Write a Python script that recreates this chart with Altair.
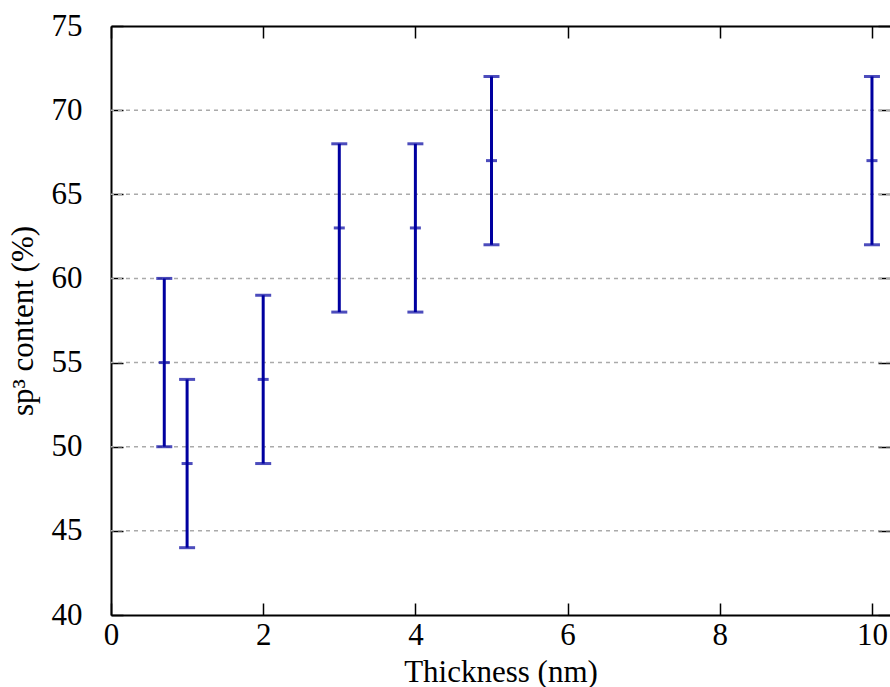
import altair as alt
import pandas as pd

thickness = [0.7, 1, 2, 3, 4, 5, 10]
sp3_mean = [55, 49, 54, 63, 63, 67, 67]
sp3_low = [50, 44, 49, 58, 58, 62, 62]
sp3_high = [60, 54, 59, 68, 68, 72, 72]
x_ticks = [0, 2, 4, 6, 8, 10]
y_ticks = [40, 45, 50, 55, 60, 65, 70, 75]
grid_ticks = [45, 50, 55, 60, 65, 70]

df = pd.DataFrame({"t": thickness, "m": sp3_mean, "lo": sp3_low, "hi": sp3_high})

FONT = "Liberation Serif"
BLUE = "#0000a0"
W, H = 779, 589

xs = alt.Scale(domain=[0, 10.237], nice=False, zero=False)
ys = alt.Scale(domain=[40, 75], nice=False, zero=False)

base = alt.Chart(df)

bars = base.mark_rule(color=BLUE, strokeWidth=3).encode(
    x=alt.X("t:Q", scale=xs, title="Thickness (nm)",
            axis=alt.Axis(orient="bottom", values=x_ticks, grid=False, labelFlush=False,
                          tickSize={"expr": "-12"}, tickWidth=1.5, tickColor="black",
                          domainColor="black", domainWidth=2,
                          labelFont=FONT, labelFontSize=31, labelColor="black",
                          labelPadding=17, titleFont=FONT, titleFontSize=31,
                          titleFontWeight="normal", titleColor="black", titlePadding=7)),
    y=alt.Y("lo:Q", scale=ys, title="sp³ content (%)",
            axis=alt.Axis(orient="left", values=y_ticks, grid=False,
                          tickSize={"expr": "-12"}, tickWidth=1.5, tickColor="black",
                          domainColor="black", domainWidth=2,
                          labelFont=FONT, labelFontSize=31, labelColor="black",
                          labelPadding=41, titleFont=FONT, titleFontSize=31,
                          titleFontWeight="normal", titleColor="black", titlePadding=12)),
    y2="hi:Q",
)

grid = alt.Chart(pd.DataFrame({"g": grid_ticks})).mark_rule(
    color="#aaaaaa", strokeWidth=1.5, strokeDash=[4, 4]
).encode(y=alt.Y("g:Q", scale=ys, axis=None))

caps_lo = base.mark_tick(color=BLUE, size=16, thickness=3, orient="horizontal").encode(
    x=alt.X("t:Q", scale=xs,
            axis=alt.Axis(orient="top", values=x_ticks, grid=False, labels=False, title=None,
                          tickSize={"expr": "-12"}, tickWidth=1.5, tickColor="black",
                          domainColor="black", domainWidth=2)),
    y=alt.Y("lo:Q", scale=ys,
            axis=alt.Axis(orient="right", values=y_ticks, grid=False, labels=False, title=None,
                          tickSize={"expr": "-12"}, tickWidth=1.5, tickColor="black",
                          domain=False)),
)
caps_hi = base.mark_tick(color=BLUE, size=16, thickness=3, orient="horizontal").encode(
    x=alt.X("t:Q", scale=xs, axis=None),
    y=alt.Y("hi:Q", scale=ys, axis=None),
)
means = base.mark_tick(color=BLUE, size=11, thickness=3, orient="horizontal").encode(
    x=alt.X("t:Q", scale=xs, axis=None),
    y=alt.Y("m:Q", scale=ys, axis=None),
)

chart = alt.layer(grid, bars, caps_lo, caps_hi, means).properties(
    width=W, height=H,
    autosize=alt.AutoSizeParams(type="none"),
    padding={"left": 111, "top": 26, "right": 0, "bottom": 72},
    background="white",
).configure_view(strokeWidth=0)

chart.save("out.html", embed_options={"renderer": "svg", "actions": False})
